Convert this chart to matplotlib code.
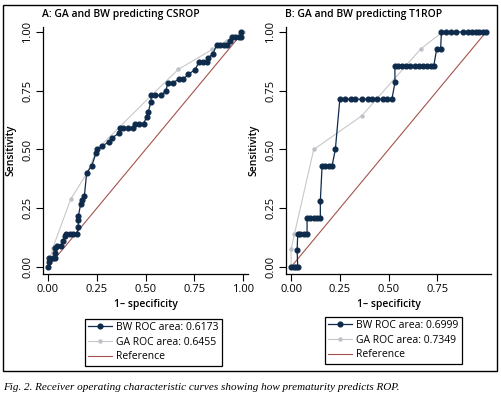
import matplotlib
matplotlib.use("Agg")
import matplotlib.pyplot as plt
from matplotlib.patches import Rectangle

plt.rcParams['font.family'] = ['Open Sans', 'DejaVu Sans']

# Panel A: GA and BW predicting CSROP
a_bw_fpr = [0.0, 0.005, 0.005, 0.024, 0.035, 0.035, 0.035, 0.048, 0.065, 0.075, 0.087, 0.092,
            0.113, 0.13, 0.147, 0.155, 0.155, 0.155, 0.168, 0.174, 0.186, 0.198, 0.224, 0.246,
            0.25, 0.278, 0.313, 0.33, 0.364, 0.369, 0.386, 0.41, 0.436, 0.446, 0.464, 0.49,
            0.506, 0.514, 0.527, 0.53, 0.549, 0.58, 0.603, 0.617, 0.643, 0.672, 0.694, 0.72,
            0.754, 0.774, 0.797, 0.817, 0.822, 0.846, 0.865, 0.883, 0.9, 0.92, 0.933, 0.942,
            0.96, 0.977, 0.99, 0.99]
a_bw_tpr = [0.0, 0.02, 0.04, 0.04, 0.04, 0.06, 0.08, 0.09, 0.09, 0.11, 0.13, 0.14,
            0.14, 0.14, 0.14, 0.17, 0.20, 0.215, 0.27, 0.285, 0.30, 0.40, 0.43, 0.485,
            0.50, 0.515, 0.533, 0.55, 0.57, 0.59, 0.59, 0.59, 0.59, 0.61, 0.61, 0.61,
            0.64, 0.66, 0.70, 0.73, 0.73, 0.73, 0.75, 0.785, 0.785, 0.80, 0.80, 0.82,
            0.84, 0.872, 0.872, 0.872, 0.89, 0.908, 0.945, 0.945, 0.945, 0.945, 0.96, 0.98,
            0.98, 0.98, 0.98, 1.0]
a_ga_fpr = [0.0, 0.024, 0.116, 0.2, 0.25, 0.53, 0.668, 0.843, 0.916, 1.0]
a_ga_tpr = [0.0, 0.08, 0.288, 0.40, 0.50, 0.73, 0.841, 0.926, 0.963, 1.0]

# Panel B: GA and BW predicting T1ROP
b_bw_fpr = [0.0, 0.014, 0.026, 0.034, 0.031, 0.034, 0.048, 0.065, 0.082, 0.082, 0.099, 0.116,
            0.133, 0.15, 0.15, 0.159, 0.176, 0.193, 0.21, 0.227, 0.25, 0.277, 0.306, 0.328,
            0.366, 0.392, 0.417, 0.443, 0.469, 0.494, 0.517, 0.533, 0.532, 0.55, 0.57, 0.591,
            0.612, 0.633, 0.655, 0.675, 0.698, 0.72, 0.732, 0.747, 0.767, 0.771, 0.795, 0.82,
            0.846, 0.88, 0.906, 0.928, 0.949, 0.966, 0.983, 1.0]
b_bw_tpr = [0.0, 0.0, 0.0, 0.0, 0.072, 0.14, 0.14, 0.14, 0.14, 0.21, 0.21, 0.21,
            0.21, 0.21, 0.28, 0.43, 0.43, 0.43, 0.43, 0.50, 0.714, 0.714, 0.714, 0.714,
            0.714, 0.714, 0.714, 0.714, 0.714, 0.714, 0.714, 0.786, 0.857, 0.857, 0.857, 0.857,
            0.857, 0.857, 0.857, 0.857, 0.857, 0.857, 0.857, 0.928, 0.928, 1.0, 1.0, 1.0,
            1.0, 1.0, 1.0, 1.0, 1.0, 1.0, 1.0, 1.0]
b_ga_fpr = [0.0, 0.0, 0.017, 0.116, 0.362, 0.665, 0.776, 1.0]
b_ga_tpr = [0.0, 0.075, 0.14, 0.50, 0.643, 0.928, 1.0, 1.0]

ticks = [0.0, 0.25, 0.5, 0.75, 1.0]
tick_labels = ["0.00", "0.25", "0.50", "0.75", "1.00"]

BW_COL = "#0e2b4c"
GA_COL = "#c8c8c8"
REF_COL = "#a4544c"

fig = plt.figure(figsize=(5.01, 3.97), dpi=100)

panels = [
    (0.0858, "A: GA and BW predicting CSROP", a_bw_fpr, a_bw_tpr, a_ga_fpr, a_ga_tpr,
     ["BW ROC area: 0.6173", "GA ROC area: 0.6455", "Reference"], (0.1697, 0.1965), True),
    (0.5709, "B: GA and BW predicting T1ROP", b_bw_fpr, b_bw_tpr, b_ga_fpr, b_ga_tpr,
     ["BW ROC area: 0.6999", "GA ROC area: 0.7349", "Reference"], (0.6487, 0.2015), False),
]

for left, title, bx, by, gx, gy, labels, leg_pos, last_tick in panels:
    ax = fig.add_axes([left, 0.3098, 0.409, 0.6214])
    l1, = ax.plot(bx, by, color=BW_COL, lw=0.9, marker="o", ms=3.4, zorder=3)
    l2, = ax.plot(gx, gy, color=GA_COL, lw=0.8, marker="o", ms=2.2, mfc="#bcc2c9", mec="#bcc2c9", zorder=2)
    l3, = ax.plot([0, 1], [0, 1], color=REF_COL, lw=0.8, zorder=1)
    ax.set_xlim(-0.026, 1.025)
    ax.set_ylim(-0.03, 1.02)
    if last_tick:
        ax.set_xticks(ticks)
        ax.set_xticklabels(tick_labels)
    else:
        ax.set_xticks(ticks[:-1])
        ax.set_xticklabels(tick_labels[:-1])
    ax.set_yticks(ticks)
    ax.set_yticklabels(tick_labels)
    ax.tick_params(axis="both", labelsize=8, length=5, width=0.8, pad=2)
    ax.tick_params(axis="y", labelrotation=90)
    for lab in ax.get_yticklabels():
        lab.set_va("center")
    ax.spines["top"].set_visible(False)
    ax.spines["right"].set_visible(False)
    ax.spines["left"].set_linewidth(0.9)
    ax.spines["bottom"].set_linewidth(0.9)
    ax.set_xlabel("1\u2013 specificity", fontsize=7.5, fontweight="semibold", labelpad=3)
    ax.set_ylabel("Sensitivity", fontsize=7.5, fontweight="semibold", labelpad=4)
    fig.text(left - 0.002, 1 - 15 / 397, title, fontsize=7.5, fontweight="semibold", va="center", ha="left")
    leg = ax.legend([l1, l2, l3], labels, loc="upper left", bbox_to_anchor=leg_pos,
                    bbox_transform=fig.transFigure, borderaxespad=0, fontsize=7.5,
                    frameon=True, fancybox=False, edgecolor="black", framealpha=1,
                    handlelength=2.3, handletextpad=0.4, labelspacing=0.35, borderpad=0.3,
                    numpoints=1)
    leg.get_frame().set_linewidth(0.9)

fig.patches.append(Rectangle((3 / 501, 1 - 371 / 397), 494 / 501, 366 / 397,
                             transform=fig.transFigure, fill=False, edgecolor="black", lw=1.0))

fig.text(3 / 501, 1 - 388 / 397,
         "Fig. 2. Receiver operating characteristic curves showing how prematurity predicts ROP.",
         fontsize=8.0, family="Liberation Serif", style="italic", va="center", ha="left")

fig.savefig("out.png", dpi=100)
